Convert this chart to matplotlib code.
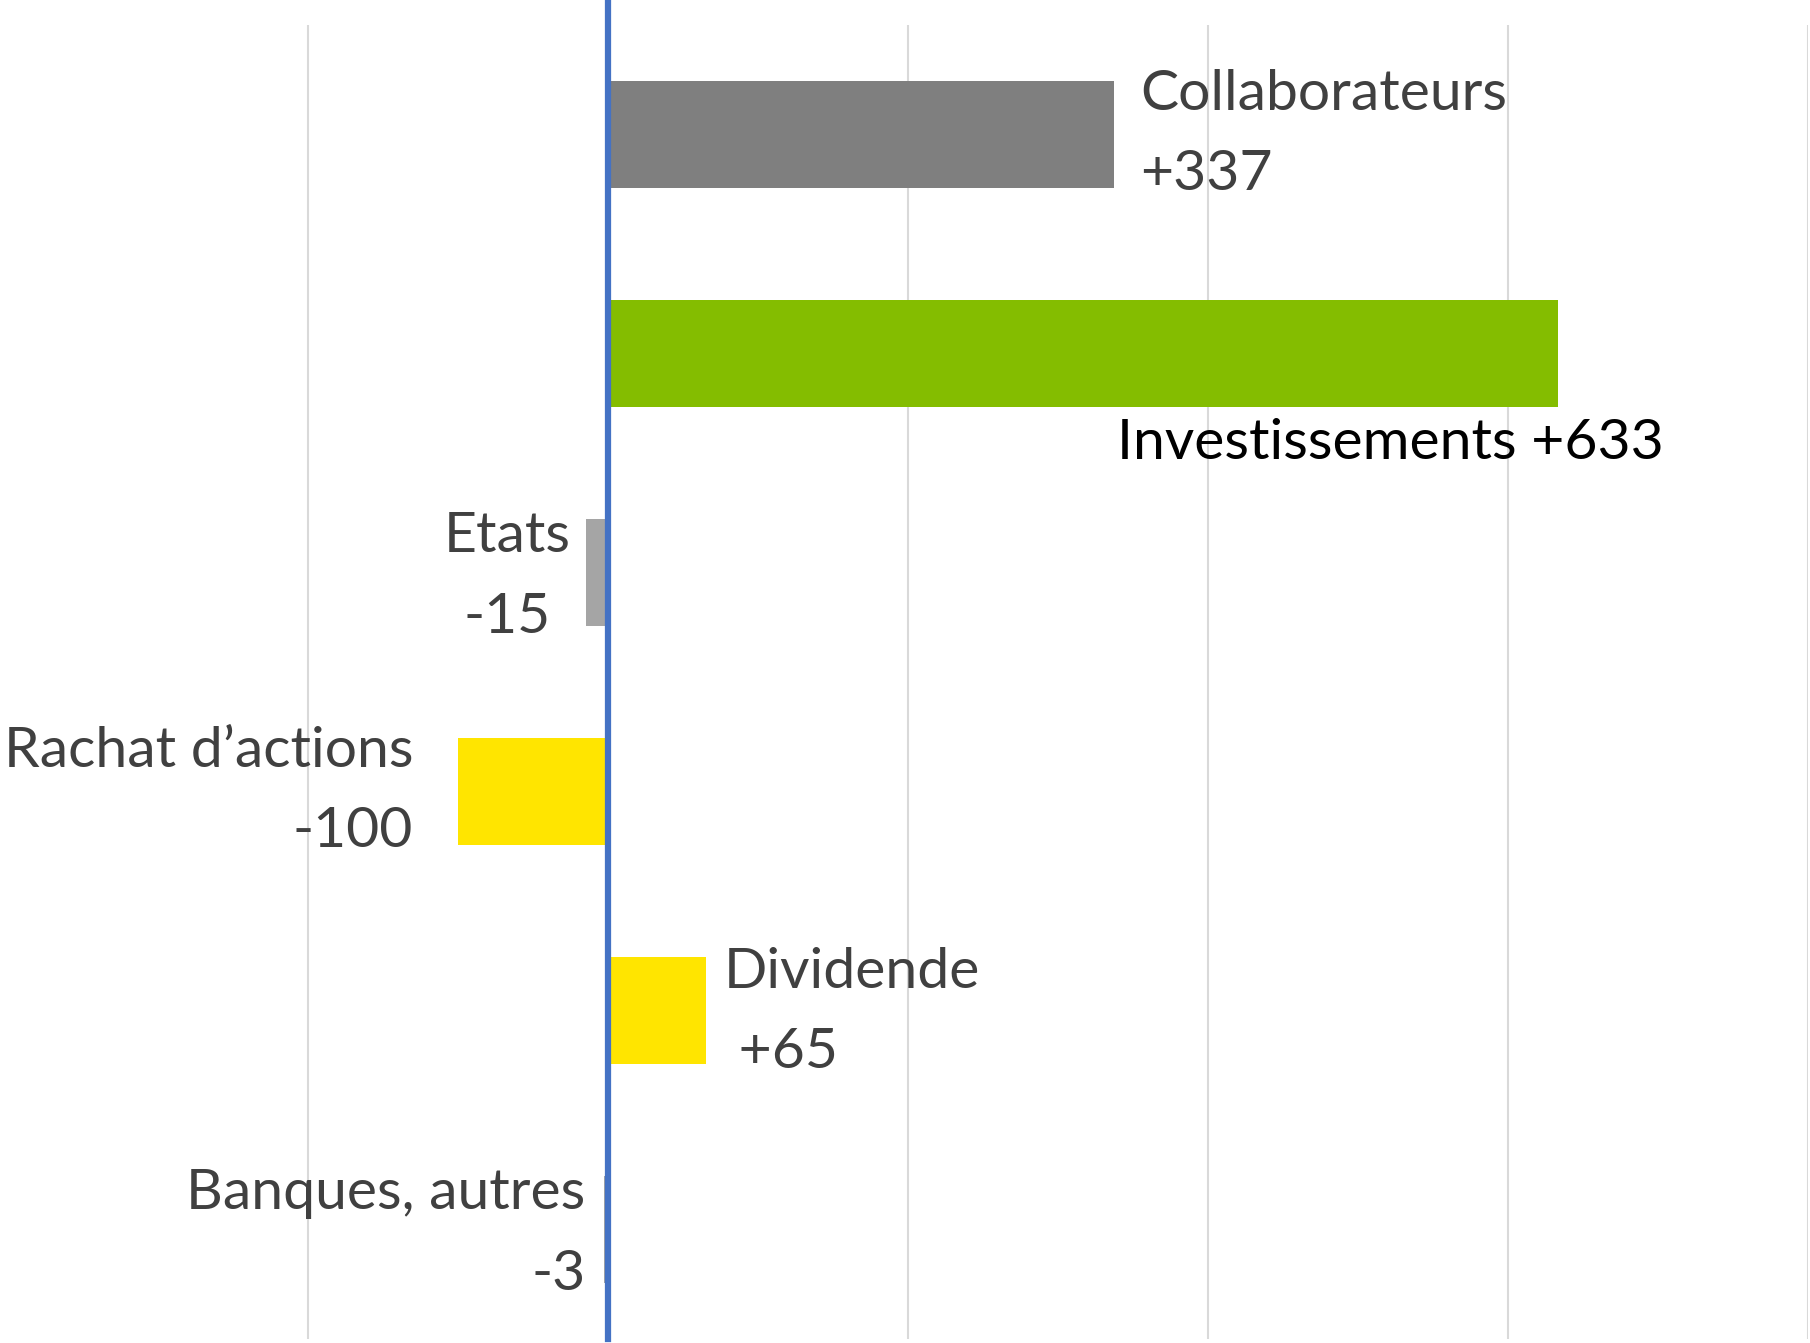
import matplotlib.pyplot as plt

# données (millions)
categories = ["Collaborateurs", "Investissements", "Etats",
              "Rachat d\u2019actions", "Dividende", "Banques, autres"]
values = [337, 633, -15, -100, 65, -3]
value_labels = ["+337", "+633", "-15", "-100", " +65", "-3"]
bar_colors = ["#7F7F7F", "#84BD00", "#A5A5A5", "#FFE500", "#FFE500", "#A5A5A5"]
grid_ticks = [-200, 0, 200, 400, 600, 800]

plt.rcParams['font.family'] = ['Lato', 'DejaVu Sans']

fig = plt.figure(figsize=(18.1, 13.43), dpi=100)
ax = fig.add_axes([8 / 1810, 4 / 1343, 1800 / 1810, 1314 / 1343])

y = list(range(len(categories)))
ax.barh(y, values, height=0.485, color=bar_colors, zorder=2)

ax.set_xlim(-400, 800)
ax.set_ylim(len(categories) - 0.5, -0.5)
ax.set_xticks(grid_ticks)
ax.xaxis.grid(True, color="#D9D9D9", linewidth=1.5, zorder=0)
ax.tick_params(left=False, bottom=False, labelleft=False, labelbottom=False)
for s in ax.spines.values():
    s.set_visible(False)

# axe vertical bleu
ax.axvline(0, ymin=0, ymax=1 + 22 / 1314, color="#4472C4", linewidth=4.5,
           clip_on=False, zorder=3)

fs = 41
txt = dict(fontsize=fs, color="#404040", linespacing=1.72)

# étiquettes
ax.text(values[0] + 18, 0.0, categories[0] + "\n" + value_labels[0],
        ha="left", va="center", **txt)
ax.text(339, 1.41, categories[1] + " " + value_labels[1],
        ha="left", va="center", fontsize=fs, color="black")
ax.text(values[2] - 52, 2.02, categories[2] + "\n" + value_labels[2],
        ha="center", va="center", multialignment="center", **txt)
ax.text(values[3] - 30, 3.0, categories[3] + "\n" + value_labels[3],
        ha="right", va="center", multialignment="right", **txt)
ax.text(values[4] + 12, 4.01, categories[4] + "\n" + value_labels[4],
        ha="left", va="center", **txt)
ax.text(values[5] - 12, 5.02, categories[5] + "\n" + value_labels[5],
        ha="right", va="center", multialignment="right", **txt)

fig.savefig("out.png", dpi=100)
